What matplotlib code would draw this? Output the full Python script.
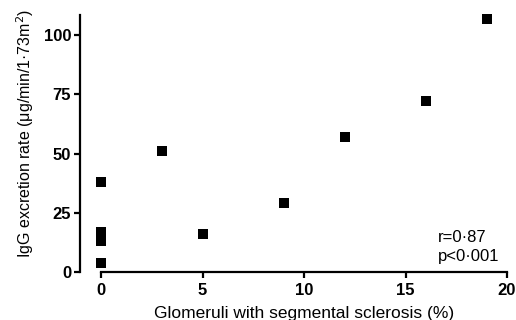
# %% Modules

import matplotlib
matplotlib.use("Agg")
import matplotlib.pyplot as plt

# %% Data

sclerosis = [0, 0, 0, 0, 0, 3, 5, 9, 12, 16, 19]
igg_rate  = [38, 17, 15, 13, 4, 51, 16, 29, 57, 72, 107]

x_ticks = [0, 5, 10, 15, 20]
y_ticks = [0, 25, 50, 75, 100]

# %% Plot setup

plt.rcParams["font.family"] = ["Liberation Sans", "DejaVu Sans"]

fig = plt.figure(figsize = (5.16, 3.2), dpi = 100)
ax = fig.add_axes([101 / 516, 1 - 272 / 320, 406 / 516, 257 / 320])

ax.scatter(sclerosis, igg_rate, marker = "s", s = 62, color = "black", clip_on = False, zorder = 3, linewidths = 0)

ax.set_xlim(0, 20)
ax.set_ylim(0, 108.5)

ax.spines["top"].set_visible(False)
ax.spines["right"].set_visible(False)
ax.spines["left"].set_position(("outward", 15))
for side in ["left", "bottom"]:
    ax.spines[side].set_linewidth(1.6)

ax.set_xticks(x_ticks)
ax.set_yticks(y_ticks)
ax.tick_params(axis = "both", direction = "out", length = 4.5, width = 1.6, labelsize = 12, pad = 2)
ax.tick_params(axis = "x", pad = 3.5)
for label in ax.get_xticklabels() + ax.get_yticklabels():
    label.set_fontweight("bold")

ax.set_xlabel("Glomeruli with segmental sclerosis (%)", fontsize = 12.5, labelpad = 6)
ax.set_ylabel("IgG excretion rate (\u03bcg/min/1\u00b773m$^2$)", fontsize = 11.5)
ax.yaxis.set_label_coords(-0.16, 0.54)

ax.text(16.6, 3.5, "r=0\u00b787\np<0\u00b7001", fontsize = 12, linespacing = 1.3, va = "bottom", ha = "left")

# %% Save

fig.savefig("out.png", dpi = 100)
